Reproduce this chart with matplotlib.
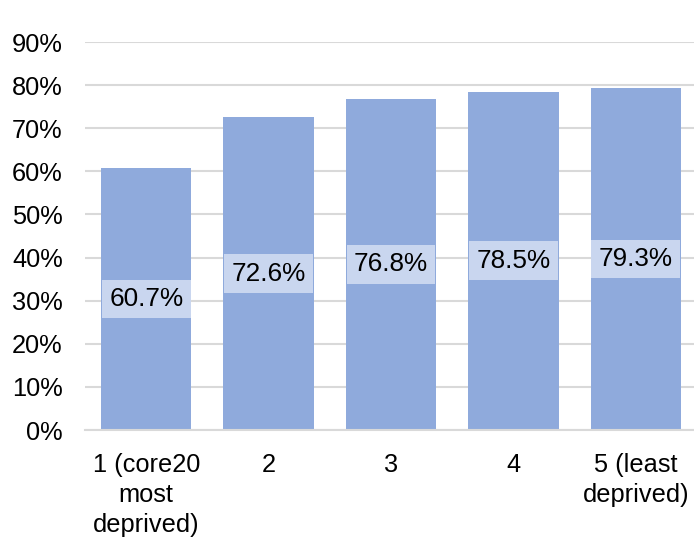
import matplotlib
matplotlib.use("Agg")
import matplotlib.pyplot as plt
from matplotlib.ticker import PercentFormatter

plt.rcParams['font.family'] = ['Liberation Sans', 'DejaVu Sans']

categories = ["1 (core20\nmost\ndeprived)", "2", "3", "4", "5 (least\ndeprived)"]
values = [60.7, 72.6, 76.8, 78.5, 79.3]
yticks = [0, 10, 20, 30, 40, 50, 60, 70, 80, 90]

bar_color = "#8faadc"
label_bg = "#c9d6ef"
grid_color = "#d9d9d9"

fig = plt.figure(figsize=(6.94, 5.41), dpi=100)
ax = fig.add_axes([85 / 694, 111 / 541, 612 / 694, 388 / 541])

x = list(range(len(categories)))
bars = ax.bar(x, values, width=0.74, color=bar_color, zorder=2)

for xi, v in zip(x, values):
    ax.text(xi, v / 2, f"{v:.1f}%", ha="center", va="center", fontsize=18.8,
            color="#000000", zorder=3,
            bbox=dict(boxstyle="square,pad=0.28", facecolor=label_bg,
                      edgecolor="none"))

ax.set_xlim(-0.5, len(categories) - 0.5)
ax.set_ylim(0, 90)
ax.set_yticks(yticks)
ax.yaxis.set_major_formatter(PercentFormatter(decimals=0))
ax.set_xticks(x)
ax.set_xticklabels(categories, linespacing=1.31)

ax.grid(axis="y", color=grid_color, linewidth=1.5, zorder=0)
ax.set_axisbelow(True)
for side in ["top", "right", "left"]:
    ax.spines[side].set_visible(False)
ax.spines["bottom"].set_color(grid_color)
ax.spines["bottom"].set_linewidth(1.5)

ax.tick_params(axis="both", length=0, labelsize=18.3, colors="#000000")
ax.tick_params(axis="y", pad=16)
ax.tick_params(axis="x", pad=16.5)

fig.savefig("out.png", dpi=100)
